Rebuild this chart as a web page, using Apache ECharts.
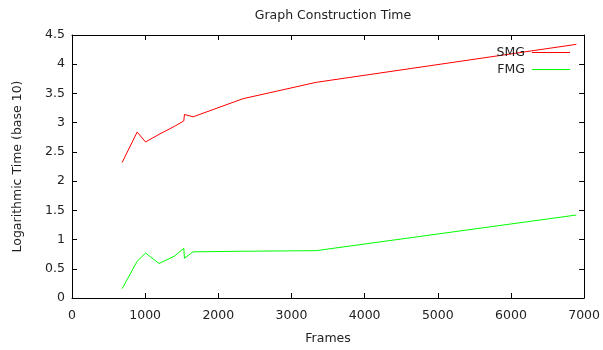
<!DOCTYPE html>
<html>
<head>
<meta charset="utf-8">
<script src="https://cdn.jsdelivr.net/npm/echarts@6/dist/echarts.min.js"></script>
<style>
  html, body { margin: 0; padding: 0; background: #fff; }
  #chart { width: 603px; height: 350px; }
</style>
</head>
<body>
<div id="chart"></div>
<script>
// frames (x) and log10 time for each method
const frames = [686, 891, 1005, 1190, 1405, 1528, 1537, 1655, 2337, 3338, 6894];
const smgTime = [2.32, 2.84, 2.67, 2.80, 2.94, 3.03, 3.14, 3.10, 3.41, 3.69, 4.34];
const fmgTime = [0.16, 0.63, 0.77, 0.59, 0.72, 0.85, 0.68, 0.79, 0.80, 0.81, 1.42];

const font = 'DejaVu Sans';
const txt = '#222';

var chart = echarts.init(document.getElementById('chart'), null, { renderer: 'canvas' });

function pairs(xs, ys) {
    return xs.map((x, i) => [x, ys[i]]);
}

var xBase = {
    type: 'value', min: 0, max: 7000, interval: 1000,
    axisLine: { show: true, onZero: false, lineStyle: { color: '#000', width: 1 } },
    axisTick: { show: true, inside: true, length: 5, lineStyle: { color: '#000' } },
    splitLine: { show: false }
};
var yBase = {
    type: 'value', min: 0, max: 4.5, interval: 0.5,
    axisLine: { show: true, onZero: false, lineStyle: { color: '#000', width: 1 } },
    axisTick: { show: true, inside: true, length: 5, lineStyle: { color: '#000' } },
    splitLine: { show: false }
};

var option = {
    animation: false,
    backgroundColor: '#fff',
    textStyle: { fontFamily: font },
    title: {
        text: 'Graph Construction Time',
        left: 328, top: 4, textAlign: 'center',
        textStyle: { fontFamily: font, fontSize: 12.5, fontWeight: 'normal', color: txt }
    },
    legend: {
        orient: 'vertical',
        right: 28, top: 41,
        align: 'right',
        itemWidth: 38, itemHeight: 1, itemGap: 4,
        icon: 'rect',
        textStyle: { fontFamily: font, fontSize: 12.5, color: txt, padding: [0, 2, 0, 0] },
        data: ['SMG', 'FMG']
    },
    grid: { left: 72, right: 18, top: 35, bottom: 50, containLabel: false },
    xAxis: [
        Object.assign({}, xBase, {
            position: 'bottom',
            name: 'Frames', nameLocation: 'middle', nameGap: 34,
            nameTextStyle: { fontFamily: font, fontSize: 12.5, color: txt },
            axisLabel: { fontFamily: font, fontSize: 12.5, color: txt, margin: 11,
                formatter: v => String(v) }
        }),
        Object.assign({}, xBase, { position: 'top', axisLabel: { show: false } })
    ],
    yAxis: [
        Object.assign({}, yBase, {
            position: 'left',
            name: 'Logarithmic Time (base 10)', nameLocation: 'middle', nameGap: 48,
            nameTextStyle: { fontFamily: font, fontSize: 12.5, color: txt },
            axisLabel: { fontFamily: font, fontSize: 12.5, color: txt, margin: 7 }
        }),
        Object.assign({}, yBase, { position: 'right', axisLabel: { show: false } })
    ],
    series: [
        {
            name: 'SMG', type: 'line', symbol: 'none',
            color: '#ff0000',
            lineStyle: { width: 1, color: '#ff0000' },
            itemStyle: { color: '#ff0000' },
            data: pairs(frames, smgTime)
        },
        {
            name: 'FMG', type: 'line', symbol: 'none',
            color: '#00ff00',
            lineStyle: { width: 1, color: '#00ff00' },
            itemStyle: { color: '#00ff00' },
            data: pairs(frames, fmgTime)
        }
    ]
};

option && chart.setOption(option);
</script>
</body>
</html>
